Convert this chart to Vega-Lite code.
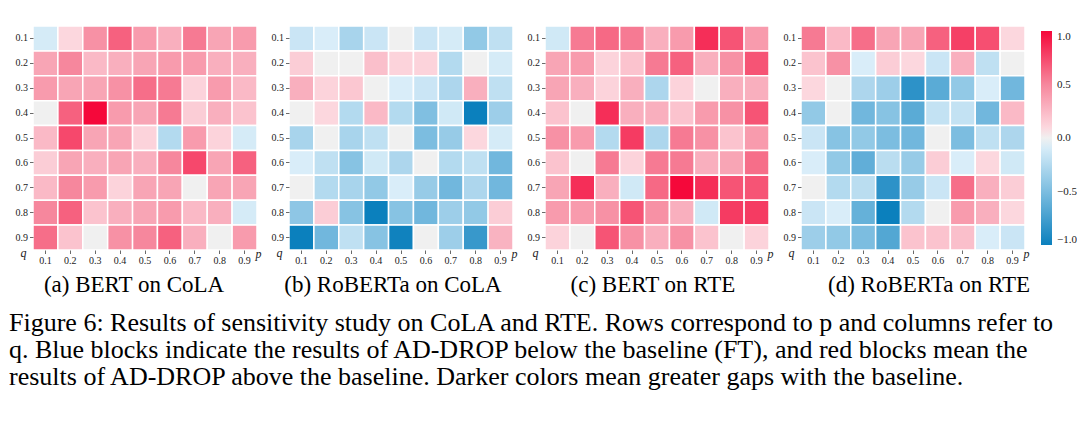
{
"$schema": "https://vega.github.io/schema/vega-lite/v6.json",
"background": "white",
"padding": {"left": 9, "top": 25, "right": 0, "bottom": 0},
"bounds": "flush",
"spacing": 32,
"title": {"text": ["Figure 6: Results of sensitivity study on CoLA and RTE. Rows correspond to p and columns refer to", "q. Blue blocks indicate the results of AD-DROP below the baseline (FT), and red blocks mean the", "results of AD-DROP above the baseline. Darker colors mean greater gaps with the baseline."], "orient": "bottom", "anchor": "start", "offset": 13, "dx": -6, "font": "Liberation Serif", "fontSize": 26, "fontWeight": "normal", "lineHeight": 27, "color": "#000"},
"data": {"values": [
{"m":"a","q":"0.1","p":"0.1","v":-0.1},{"m":"a","q":"0.1","p":"0.2","v":0.1},{"m":"a","q":"0.1","p":"0.3","v":0.45},{"m":"a","q":"0.1","p":"0.4","v":0.65},{"m":"a","q":"0.1","p":"0.5","v":0.4},{"m":"a","q":"0.1","p":"0.6","v":0.3},{"m":"a","q":"0.1","p":"0.7","v":0.55},{"m":"a","q":"0.1","p":"0.8","v":0.35},{"m":"a","q":"0.1","p":"0.9","v":0.4},
{"m":"a","q":"0.2","p":"0.1","v":0.35},{"m":"a","q":"0.2","p":"0.2","v":0.5},{"m":"a","q":"0.2","p":"0.3","v":0.25},{"m":"a","q":"0.2","p":"0.4","v":0.3},{"m":"a","q":"0.2","p":"0.5","v":0.35},{"m":"a","q":"0.2","p":"0.6","v":0.4},{"m":"a","q":"0.2","p":"0.7","v":0.4},{"m":"a","q":"0.2","p":"0.8","v":0.3},{"m":"a","q":"0.2","p":"0.9","v":0.3},
{"m":"a","q":"0.3","p":"0.1","v":0.4},{"m":"a","q":"0.3","p":"0.2","v":0.35},{"m":"a","q":"0.3","p":"0.3","v":0.35},{"m":"a","q":"0.3","p":"0.4","v":0.45},{"m":"a","q":"0.3","p":"0.5","v":0.6},{"m":"a","q":"0.3","p":"0.6","v":0.55},{"m":"a","q":"0.3","p":"0.7","v":0.12},{"m":"a","q":"0.3","p":"0.8","v":0.4},{"m":"a","q":"0.3","p":"0.9","v":0.25},
{"m":"a","q":"0.4","p":"0.1","v":0},{"m":"a","q":"0.4","p":"0.2","v":0.65},{"m":"a","q":"0.4","p":"0.3","v":1.0},{"m":"a","q":"0.4","p":"0.4","v":0.4},{"m":"a","q":"0.4","p":"0.5","v":0.35},{"m":"a","q":"0.4","p":"0.6","v":0.55},{"m":"a","q":"0.4","p":"0.7","v":0.15},{"m":"a","q":"0.4","p":"0.8","v":0.3},{"m":"a","q":"0.4","p":"0.9","v":0.2},
{"m":"a","q":"0.5","p":"0.1","v":0.25},{"m":"a","q":"0.5","p":"0.2","v":0.75},{"m":"a","q":"0.5","p":"0.3","v":0.35},{"m":"a","q":"0.5","p":"0.4","v":0.35},{"m":"a","q":"0.5","p":"0.5","v":0.12},{"m":"a","q":"0.5","p":"0.6","v":-0.25},{"m":"a","q":"0.5","p":"0.7","v":0.4},{"m":"a","q":"0.5","p":"0.8","v":0.12},{"m":"a","q":"0.5","p":"0.9","v":-0.1},
{"m":"a","q":"0.6","p":"0.1","v":0.15},{"m":"a","q":"0.6","p":"0.2","v":0.35},{"m":"a","q":"0.6","p":"0.3","v":0.3},{"m":"a","q":"0.6","p":"0.4","v":0.35},{"m":"a","q":"0.6","p":"0.5","v":0.3},{"m":"a","q":"0.6","p":"0.6","v":0.5},{"m":"a","q":"0.6","p":"0.7","v":0.75},{"m":"a","q":"0.6","p":"0.8","v":0.35},{"m":"a","q":"0.6","p":"0.9","v":0.65},
{"m":"a","q":"0.7","p":"0.1","v":0.25},{"m":"a","q":"0.7","p":"0.2","v":0.5},{"m":"a","q":"0.7","p":"0.3","v":0.4},{"m":"a","q":"0.7","p":"0.4","v":0.12},{"m":"a","q":"0.7","p":"0.5","v":0.35},{"m":"a","q":"0.7","p":"0.6","v":0.35},{"m":"a","q":"0.7","p":"0.7","v":0},{"m":"a","q":"0.7","p":"0.8","v":0.35},{"m":"a","q":"0.7","p":"0.9","v":0.35},
{"m":"a","q":"0.8","p":"0.1","v":0.5},{"m":"a","q":"0.8","p":"0.2","v":0.65},{"m":"a","q":"0.8","p":"0.3","v":0.2},{"m":"a","q":"0.8","p":"0.4","v":0.3},{"m":"a","q":"0.8","p":"0.5","v":0.35},{"m":"a","q":"0.8","p":"0.6","v":0.4},{"m":"a","q":"0.8","p":"0.7","v":0.25},{"m":"a","q":"0.8","p":"0.8","v":0.3},{"m":"a","q":"0.8","p":"0.9","v":-0.1},
{"m":"a","q":"0.9","p":"0.1","v":0.6},{"m":"a","q":"0.9","p":"0.2","v":0.2},{"m":"a","q":"0.9","p":"0.3","v":0},{"m":"a","q":"0.9","p":"0.4","v":0.45},{"m":"a","q":"0.9","p":"0.5","v":0.5},{"m":"a","q":"0.9","p":"0.6","v":0.65},{"m":"a","q":"0.9","p":"0.7","v":0.3},{"m":"a","q":"0.9","p":"0.8","v":0},{"m":"a","q":"0.9","p":"0.9","v":0.4},
{"m":"b","q":"0.1","p":"0.1","v":-0.15},{"m":"b","q":"0.1","p":"0.2","v":-0.08},{"m":"b","q":"0.1","p":"0.3","v":-0.3},{"m":"b","q":"0.1","p":"0.4","v":-0.15},{"m":"b","q":"0.1","p":"0.5","v":0},{"m":"b","q":"0.1","p":"0.6","v":-0.15},{"m":"b","q":"0.1","p":"0.7","v":-0.1},{"m":"b","q":"0.1","p":"0.8","v":-0.4},{"m":"b","q":"0.1","p":"0.9","v":-0.2},
{"m":"b","q":"0.2","p":"0.1","v":0.15},{"m":"b","q":"0.2","p":"0.2","v":0},{"m":"b","q":"0.2","p":"0.3","v":0},{"m":"b","q":"0.2","p":"0.4","v":0.22},{"m":"b","q":"0.2","p":"0.5","v":0.12},{"m":"b","q":"0.2","p":"0.6","v":0.12},{"m":"b","q":"0.2","p":"0.7","v":-0.25},{"m":"b","q":"0.2","p":"0.8","v":0},{"m":"b","q":"0.2","p":"0.9","v":-0.1},
{"m":"b","q":"0.3","p":"0.1","v":0.3},{"m":"b","q":"0.3","p":"0.2","v":0.12},{"m":"b","q":"0.3","p":"0.3","v":0.18},{"m":"b","q":"0.3","p":"0.4","v":0},{"m":"b","q":"0.3","p":"0.5","v":-0.08},{"m":"b","q":"0.3","p":"0.6","v":-0.15},{"m":"b","q":"0.3","p":"0.7","v":-0.28},{"m":"b","q":"0.3","p":"0.8","v":0.3},{"m":"b","q":"0.3","p":"0.9","v":-0.2},
{"m":"b","q":"0.4","p":"0.1","v":0},{"m":"b","q":"0.4","p":"0.2","v":0.1},{"m":"b","q":"0.4","p":"0.3","v":-0.25},{"m":"b","q":"0.4","p":"0.4","v":0.25},{"m":"b","q":"0.4","p":"0.5","v":-0.25},{"m":"b","q":"0.4","p":"0.6","v":-0.48},{"m":"b","q":"0.4","p":"0.7","v":-0.12},{"m":"b","q":"0.4","p":"0.8","v":-1.0},{"m":"b","q":"0.4","p":"0.9","v":-0.35},
{"m":"b","q":"0.5","p":"0.1","v":-0.3},{"m":"b","q":"0.5","p":"0.2","v":0},{"m":"b","q":"0.5","p":"0.3","v":-0.3},{"m":"b","q":"0.5","p":"0.4","v":-0.2},{"m":"b","q":"0.5","p":"0.5","v":0},{"m":"b","q":"0.5","p":"0.6","v":-0.5},{"m":"b","q":"0.5","p":"0.7","v":-0.38},{"m":"b","q":"0.5","p":"0.8","v":0.1},{"m":"b","q":"0.5","p":"0.9","v":-0.1},
{"m":"b","q":"0.6","p":"0.1","v":-0.08},{"m":"b","q":"0.6","p":"0.2","v":-0.2},{"m":"b","q":"0.6","p":"0.3","v":-0.45},{"m":"b","q":"0.6","p":"0.4","v":-0.12},{"m":"b","q":"0.6","p":"0.5","v":-0.28},{"m":"b","q":"0.6","p":"0.6","v":0},{"m":"b","q":"0.6","p":"0.7","v":-0.25},{"m":"b","q":"0.6","p":"0.8","v":-0.2},{"m":"b","q":"0.6","p":"0.9","v":-0.55},
{"m":"b","q":"0.7","p":"0.1","v":0},{"m":"b","q":"0.7","p":"0.2","v":-0.25},{"m":"b","q":"0.7","p":"0.3","v":-0.3},{"m":"b","q":"0.7","p":"0.4","v":-0.4},{"m":"b","q":"0.7","p":"0.5","v":-0.08},{"m":"b","q":"0.7","p":"0.6","v":-0.38},{"m":"b","q":"0.7","p":"0.7","v":-0.55},{"m":"b","q":"0.7","p":"0.8","v":-0.28},{"m":"b","q":"0.7","p":"0.9","v":-0.55},
{"m":"b","q":"0.8","p":"0.1","v":-0.42},{"m":"b","q":"0.8","p":"0.2","v":0.15},{"m":"b","q":"0.8","p":"0.3","v":-0.45},{"m":"b","q":"0.8","p":"0.4","v":-1.0},{"m":"b","q":"0.8","p":"0.5","v":-0.45},{"m":"b","q":"0.8","p":"0.6","v":-0.55},{"m":"b","q":"0.8","p":"0.7","v":-0.35},{"m":"b","q":"0.8","p":"0.8","v":-0.4},{"m":"b","q":"0.8","p":"0.9","v":0.15},
{"m":"b","q":"0.9","p":"0.1","v":-1.0},{"m":"b","q":"0.9","p":"0.2","v":-0.55},{"m":"b","q":"0.9","p":"0.3","v":-0.2},{"m":"b","q":"0.9","p":"0.4","v":-0.45},{"m":"b","q":"0.9","p":"0.5","v":-0.98},{"m":"b","q":"0.9","p":"0.6","v":0},{"m":"b","q":"0.9","p":"0.7","v":-0.35},{"m":"b","q":"0.9","p":"0.8","v":-0.8},{"m":"b","q":"0.9","p":"0.9","v":0.28},
{"m":"c","q":"0.1","p":"0.1","v":-0.12},{"m":"c","q":"0.1","p":"0.2","v":0.55},{"m":"c","q":"0.1","p":"0.3","v":0.62},{"m":"c","q":"0.1","p":"0.4","v":0.55},{"m":"c","q":"0.1","p":"0.5","v":0.3},{"m":"c","q":"0.1","p":"0.6","v":0.4},{"m":"c","q":"0.1","p":"0.7","v":0.85},{"m":"c","q":"0.1","p":"0.8","v":0.7},{"m":"c","q":"0.1","p":"0.9","v":0.4},
{"m":"c","q":"0.2","p":"0.1","v":0.35},{"m":"c","q":"0.2","p":"0.2","v":0.4},{"m":"c","q":"0.2","p":"0.3","v":0.12},{"m":"c","q":"0.2","p":"0.4","v":0.2},{"m":"c","q":"0.2","p":"0.5","v":0.55},{"m":"c","q":"0.2","p":"0.6","v":0.65},{"m":"c","q":"0.2","p":"0.7","v":0.3},{"m":"c","q":"0.2","p":"0.8","v":0.45},{"m":"c","q":"0.2","p":"0.9","v":0.7},
{"m":"c","q":"0.3","p":"0.1","v":0.35},{"m":"c","q":"0.3","p":"0.2","v":0.3},{"m":"c","q":"0.3","p":"0.3","v":0.12},{"m":"c","q":"0.3","p":"0.4","v":0.3},{"m":"c","q":"0.3","p":"0.5","v":-0.28},{"m":"c","q":"0.3","p":"0.6","v":0.12},{"m":"c","q":"0.3","p":"0.7","v":0},{"m":"c","q":"0.3","p":"0.8","v":0.3},{"m":"c","q":"0.3","p":"0.9","v":0.3},
{"m":"c","q":"0.4","p":"0.1","v":0.2},{"m":"c","q":"0.4","p":"0.2","v":0},{"m":"c","q":"0.4","p":"0.3","v":0.85},{"m":"c","q":"0.4","p":"0.4","v":0.3},{"m":"c","q":"0.4","p":"0.5","v":0.3},{"m":"c","q":"0.4","p":"0.6","v":0.2},{"m":"c","q":"0.4","p":"0.7","v":0.4},{"m":"c","q":"0.4","p":"0.8","v":0.45},{"m":"c","q":"0.4","p":"0.9","v":0.7},
{"m":"c","q":"0.5","p":"0.1","v":0.45},{"m":"c","q":"0.5","p":"0.2","v":0.4},{"m":"c","q":"0.5","p":"0.3","v":-0.25},{"m":"c","q":"0.5","p":"0.4","v":0.8},{"m":"c","q":"0.5","p":"0.5","v":-0.28},{"m":"c","q":"0.5","p":"0.6","v":0.55},{"m":"c","q":"0.5","p":"0.7","v":0.45},{"m":"c","q":"0.5","p":"0.8","v":0.2},{"m":"c","q":"0.5","p":"0.9","v":0.4},
{"m":"c","q":"0.6","p":"0.1","v":0.2},{"m":"c","q":"0.6","p":"0.2","v":0},{"m":"c","q":"0.6","p":"0.3","v":0.55},{"m":"c","q":"0.6","p":"0.4","v":0.12},{"m":"c","q":"0.6","p":"0.5","v":0.55},{"m":"c","q":"0.6","p":"0.6","v":0.55},{"m":"c","q":"0.6","p":"0.7","v":0.3},{"m":"c","q":"0.6","p":"0.8","v":0.35},{"m":"c","q":"0.6","p":"0.9","v":0.6},
{"m":"c","q":"0.7","p":"0.1","v":0.35},{"m":"c","q":"0.7","p":"0.2","v":0.85},{"m":"c","q":"0.7","p":"0.3","v":0.3},{"m":"c","q":"0.7","p":"0.4","v":-0.12},{"m":"c","q":"0.7","p":"0.5","v":0.62},{"m":"c","q":"0.7","p":"0.6","v":1.0},{"m":"c","q":"0.7","p":"0.7","v":0.85},{"m":"c","q":"0.7","p":"0.8","v":0.7},{"m":"c","q":"0.7","p":"0.9","v":0.7},
{"m":"c","q":"0.8","p":"0.1","v":0.4},{"m":"c","q":"0.8","p":"0.2","v":0.4},{"m":"c","q":"0.8","p":"0.3","v":0.45},{"m":"c","q":"0.8","p":"0.4","v":0.7},{"m":"c","q":"0.8","p":"0.5","v":0.45},{"m":"c","q":"0.8","p":"0.6","v":0.3},{"m":"c","q":"0.8","p":"0.7","v":-0.12},{"m":"c","q":"0.8","p":"0.8","v":0.8},{"m":"c","q":"0.8","p":"0.9","v":0.8},
{"m":"c","q":"0.9","p":"0.1","v":0.12},{"m":"c","q":"0.9","p":"0.2","v":0},{"m":"c","q":"0.9","p":"0.3","v":0.7},{"m":"c","q":"0.9","p":"0.4","v":0.45},{"m":"c","q":"0.9","p":"0.5","v":0.3},{"m":"c","q":"0.9","p":"0.6","v":0.45},{"m":"c","q":"0.9","p":"0.7","v":0.2},{"m":"c","q":"0.9","p":"0.8","v":0},{"m":"c","q":"0.9","p":"0.9","v":0.12},
{"m":"d","q":"0.1","p":"0.1","v":0.55},{"m":"d","q":"0.1","p":"0.2","v":0.25},{"m":"d","q":"0.1","p":"0.3","v":0.6},{"m":"d","q":"0.1","p":"0.4","v":0.35},{"m":"d","q":"0.1","p":"0.5","v":0.35},{"m":"d","q":"0.1","p":"0.6","v":0.65},{"m":"d","q":"0.1","p":"0.7","v":0.78},{"m":"d","q":"0.1","p":"0.8","v":0.72},{"m":"d","q":"0.1","p":"0.9","v":0.1},
{"m":"d","q":"0.2","p":"0.1","v":0.2},{"m":"d","q":"0.2","p":"0.2","v":0.45},{"m":"d","q":"0.2","p":"0.3","v":-0.08},{"m":"d","q":"0.2","p":"0.4","v":0.15},{"m":"d","q":"0.2","p":"0.5","v":0.1},{"m":"d","q":"0.2","p":"0.6","v":-0.15},{"m":"d","q":"0.2","p":"0.7","v":0.3},{"m":"d","q":"0.2","p":"0.8","v":-0.2},{"m":"d","q":"0.2","p":"0.9","v":0},
{"m":"d","q":"0.3","p":"0.1","v":0.1},{"m":"d","q":"0.3","p":"0.2","v":0},{"m":"d","q":"0.3","p":"0.3","v":-0.28},{"m":"d","q":"0.3","p":"0.4","v":-0.35},{"m":"d","q":"0.3","p":"0.5","v":-0.85},{"m":"d","q":"0.3","p":"0.6","v":-0.65},{"m":"d","q":"0.3","p":"0.7","v":-0.4},{"m":"d","q":"0.3","p":"0.8","v":-0.08},{"m":"d","q":"0.3","p":"0.9","v":-0.55},
{"m":"d","q":"0.4","p":"0.1","v":-0.4},{"m":"d","q":"0.4","p":"0.2","v":0},{"m":"d","q":"0.4","p":"0.3","v":-0.55},{"m":"d","q":"0.4","p":"0.4","v":-0.45},{"m":"d","q":"0.4","p":"0.5","v":-0.65},{"m":"d","q":"0.4","p":"0.6","v":-0.18},{"m":"d","q":"0.4","p":"0.7","v":-0.18},{"m":"d","q":"0.4","p":"0.8","v":-0.55},{"m":"d","q":"0.4","p":"0.9","v":0.25},
{"m":"d","q":"0.5","p":"0.1","v":-0.15},{"m":"d","q":"0.5","p":"0.2","v":-0.45},{"m":"d","q":"0.5","p":"0.3","v":-0.4},{"m":"d","q":"0.5","p":"0.4","v":-0.5},{"m":"d","q":"0.5","p":"0.5","v":-0.55},{"m":"d","q":"0.5","p":"0.6","v":0},{"m":"d","q":"0.5","p":"0.7","v":-0.5},{"m":"d","q":"0.5","p":"0.8","v":-0.2},{"m":"d","q":"0.5","p":"0.9","v":-0.28},
{"m":"d","q":"0.6","p":"0.1","v":-0.08},{"m":"d","q":"0.6","p":"0.2","v":-0.4},{"m":"d","q":"0.6","p":"0.3","v":-0.62},{"m":"d","q":"0.6","p":"0.4","v":-0.22},{"m":"d","q":"0.6","p":"0.5","v":-0.38},{"m":"d","q":"0.6","p":"0.6","v":0.15},{"m":"d","q":"0.6","p":"0.7","v":-0.08},{"m":"d","q":"0.6","p":"0.8","v":0.1},{"m":"d","q":"0.6","p":"0.9","v":-0.12},
{"m":"d","q":"0.7","p":"0.1","v":0},{"m":"d","q":"0.7","p":"0.2","v":-0.25},{"m":"d","q":"0.7","p":"0.3","v":-0.22},{"m":"d","q":"0.7","p":"0.4","v":-0.85},{"m":"d","q":"0.7","p":"0.5","v":-0.38},{"m":"d","q":"0.7","p":"0.6","v":-0.15},{"m":"d","q":"0.7","p":"0.7","v":0.6},{"m":"d","q":"0.7","p":"0.8","v":0.3},{"m":"d","q":"0.7","p":"0.9","v":0.15},
{"m":"d","q":"0.8","p":"0.1","v":-0.15},{"m":"d","q":"0.8","p":"0.2","v":-0.08},{"m":"d","q":"0.8","p":"0.3","v":-0.6},{"m":"d","q":"0.8","p":"0.4","v":-1.0},{"m":"d","q":"0.8","p":"0.5","v":-0.25},{"m":"d","q":"0.8","p":"0.6","v":0},{"m":"d","q":"0.8","p":"0.7","v":0.4},{"m":"d","q":"0.8","p":"0.8","v":0.3},{"m":"d","q":"0.8","p":"0.9","v":0.1},
{"m":"d","q":"0.9","p":"0.1","v":-0.35},{"m":"d","q":"0.9","p":"0.2","v":-0.4},{"m":"d","q":"0.9","p":"0.3","v":-0.5},{"m":"d","q":"0.9","p":"0.4","v":-0.68},{"m":"d","q":"0.9","p":"0.5","v":0.2},{"m":"d","q":"0.9","p":"0.6","v":0.2},{"m":"d","q":"0.9","p":"0.7","v":0.22},{"m":"d","q":"0.9","p":"0.8","v":-0.08},{"m":"d","q":"0.9","p":"0.9","v":-0.15}
]},
"hconcat": [
{"width": 224, "height": 224,
 "title": {"text": "(a) BERT on CoLA", "orient": "bottom", "anchor": "middle", "offset": 8, "dx": -11},
 "transform": [{"filter": "datum.m == 'a'"}],
 "mark": {"type": "rect", "stroke": "white", "strokeWidth": 1.5},
 "encoding": {
  "x": {"field": "p", "type": "ordinal", "axis": {"title": "p", "titleX": 225, "titleY": 3}},
  "y": {"field": "q", "type": "ordinal", "axis": {"title": "q", "titleX": -10, "titleY": 226}},
  "color": {"field": "v", "type": "quantitative",
   "scale": {"domain": [-1, -0.5, -0.04, 0, 0.04, 0.5, 1], "range": ["#0b80bd", "#7cbde0", "#e2f2fb", "#f0f0f0", "#fde3e8", "#f6879d", "#f5083a"], "interpolate": "rgb"},
   "legend": {"orient": "none", "legendX": 1008, "legendY": 5, "title": null, "gradientLength": 214, "gradientThickness": 11, "values": [-1, -0.5, 0, 0.5, 1], "format": ".1f", "labelFont": "Liberation Serif", "labelFontSize": 11, "labelColor": "#222", "labelOffset": 5, "gradientStrokeWidth": 0, "direction": "vertical"}}
 }},
{"width": 224, "height": 224,
 "title": {"text": "(b) RoBERTa on CoLA", "orient": "bottom", "anchor": "middle", "offset": 8, "dx": -8},
 "transform": [{"filter": "datum.m == 'b'"}],
 "mark": {"type": "rect", "stroke": "white", "strokeWidth": 1.5},
 "encoding": {
  "x": {"field": "p", "type": "ordinal", "axis": {"title": "p", "titleX": 225, "titleY": 3}},
  "y": {"field": "q", "type": "ordinal", "axis": {"title": "q", "titleX": -10, "titleY": 226}},
  "color": {"field": "v", "type": "quantitative"}
 }},
{"width": 224, "height": 224,
 "title": {"text": "(c) BERT on RTE", "orient": "bottom", "anchor": "middle", "offset": 8, "dx": -4},
 "transform": [{"filter": "datum.m == 'c'"}],
 "mark": {"type": "rect", "stroke": "white", "strokeWidth": 1.5},
 "encoding": {
  "x": {"field": "p", "type": "ordinal", "axis": {"title": "p", "titleX": 225, "titleY": 3}},
  "y": {"field": "q", "type": "ordinal", "axis": {"title": "q", "titleX": -10, "titleY": 226}},
  "color": {"field": "v", "type": "quantitative"}
 }},
{"width": 224, "height": 224,
 "title": {"text": "(d) RoBERTa on RTE", "orient": "bottom", "anchor": "middle", "offset": 8, "dx": 16},
 "transform": [{"filter": "datum.m == 'd'"}],
 "mark": {"type": "rect", "stroke": "white", "strokeWidth": 1.5},
 "encoding": {
  "x": {"field": "p", "type": "ordinal", "axis": {"title": "p", "titleX": 225, "titleY": 3}},
  "y": {"field": "q", "type": "ordinal", "axis": {"title": "q", "titleX": -10, "titleY": 226}},
  "color": {"field": "v", "type": "quantitative"}
 }}
],
"config": {
 "view": {"stroke": null},
 "title": {"font": "Liberation Serif", "fontSize": 23, "fontWeight": "normal", "color": "#000"},
 "axis": {"labelFont": "Liberation Serif", "labelFontSize": 10, "labelColor": "#222", "labelAngle": 0, "labelPadding": 2, "tickSize": 3.5, "tickColor": "#444", "tickWidth": 0.8, "domain": false, "titleFont": "Liberation Serif", "titleFontStyle": "italic", "titleFontWeight": "normal", "titleFontSize": 12, "titleColor": "#222", "titleAlign": "center", "titleBaseline": "middle"},
 "axisY": {"titleAngle": 0}
}
}
